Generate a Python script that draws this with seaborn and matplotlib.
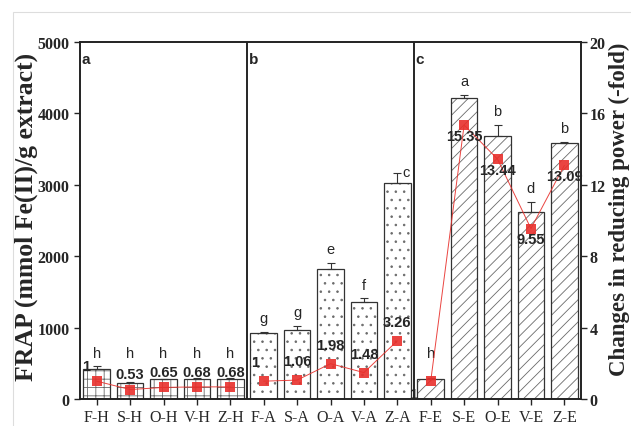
import numpy as np
import pandas as pd
import seaborn as sns
import matplotlib.pyplot as plt
from matplotlib.patches import Rectangle

# Datos
samples = ['F-H', 'S-H', 'O-H', 'V-H', 'Z-H',
           'F-A', 'S-A', 'O-A', 'V-A', 'Z-A',
           'F-E', 'S-E', 'O-E', 'V-E', 'Z-E']
panels = ['a'] * 5 + ['b'] * 5 + ['c'] * 5
frap = [425, 225, 275, 285, 285,
        925, 970, 1820, 1365, 3020,
        280, 4210, 3690, 2625, 3585]
frap_err = [35, 10, 10, 10, 10,
            20, 55, 85, 45, 140,
            15, 50, 150, 140, 20]
fold = [1, 0.53, 0.65, 0.68, 0.68,
        1, 1.06, 1.98, 1.48, 3.26,
        1, 15.35, 13.44, 9.55, 13.09]
fold_labels = ['1', '0.53', '0.65', '0.68', '0.68',
               '1', '1.06', '1.98', '1.48', '3.26',
               '1', '15.35', '13.44', '9.55', '13.09']
letters = ['h', 'h', 'h', 'h', 'h',
           'g', 'g', 'e', 'f', 'c',
           'h', 'a', 'b', 'd', 'b']

df = pd.DataFrame({'sample': samples, 'panel': panels, 'frap': frap,
                   'err': frap_err, 'fold': fold})
df['pos'] = np.arange(len(df))

sns.set_style('ticks')
serif = ['Liberation Serif', 'DejaVu Serif']
sans = ['Liberation Sans', 'DejaVu Sans']
narrow = ['Liberation Sans Narrow', 'Liberation Sans', 'DejaVu Sans']
red = '#e8302c'
plt.rcParams['hatch.linewidth'] = 0.6

fig = plt.figure(figsize=(6.31, 4.27), dpi=100)
ax = fig.add_axes([0.1268, 0.0632, 0.7940, 0.8361])

# relleno con tramas (color gris) y luego el contorno oscuro encima
sns.barplot(data=df, x='sample', y='frap', color='white', edgecolor='#6a6a6a',
            linewidth=0, width=0.8, errorbar=None, ax=ax)
hatches = {'a': '++', 'b': '..', 'c': '///'}
for patch, p in zip(ax.patches[:len(df)], df['panel']):
    patch.set_hatch(hatches[p])
sns.barplot(data=df, x='sample', y='frap', fill=False, color='#333333',
            linewidth=0.9, width=0.8, errorbar=None, ax=ax)

# barras de error (solo hacia arriba)
ax.errorbar(df['pos'], df['frap'], yerr=[np.zeros(len(df)), df['err']],
            fmt='none', ecolor='#333333', elinewidth=0.8, capsize=3, capthick=0.8)

ax.set_xlim(-0.5, 14.5)
ax.set_ylim(0, 5000)
ax.set_yticks(range(0, 5001, 1000))
ax.set_xlabel('')
ax.set_ylabel('')
for xs in (4.5, 9.5):
    ax.axvline(xs, color='black', lw=1.2)
for s in ax.spines.values():
    s.set_linewidth(1.2)
    s.set_color('#222222')
ax.tick_params(axis='both', direction='out', length=4, width=1)
for lab in ax.get_yticklabels():
    lab.set_fontfamily(serif)
    lab.set_fontweight('bold')
    lab.set_fontsize(11.5)
for lab in ax.get_xticklabels():
    lab.set_fontfamily(serif)
    lab.set_fontsize(11.5)

# letras de significancia
for i, row in df.iterrows():
    top = row['frap'] + row['err']
    if letters[i] == 'c' and row['panel'] == 'b':
        ax.text(row['pos'] + 0.25, top + 20, letters[i], ha='center', va='center',
                fontsize=10.5, family=sans)
        continue
    ax.text(row['pos'], max(top + 190, 640), letters[i], ha='center', va='center',
            fontsize=10.5, family=sans)

# paneles a, b, c
for xp, lab in zip((-0.45, 4.55, 9.55), ('a', 'b', 'c')):
    ax.text(xp, 4760, lab, ha='left', va='center', fontsize=11,
            fontweight='bold', family=sans)

# eje derecho: cambio en poder reductor
ax2 = ax.twinx()
sns.lineplot(data=df, x='pos', y='fold', units='panel', estimator=None,
             color=red, lw=0.7, alpha=0.9, marker='s', markersize=7,
             markeredgewidth=0, legend=False, ax=ax2)
ax2.set_xlim(-0.5, 14.5)
ax2.set_ylim(0, 20)
ax2.set_yticks(range(0, 21, 4))
ax2.set_ylabel('')
ax2.tick_params(axis='y', direction='out', length=4, width=1, pad=2)
for lab in ax2.get_yticklabels():
    lab.set_fontfamily(serif)
    lab.set_fontweight('bold')
    lab.set_fontsize(11.5)
for s in ax2.spines.values():
    s.set_linewidth(1.2)
    s.set_color('#222222')

# etiquetas de cambio (-fold)
for i, row in df.iterrows():
    x, f, p = row['pos'], row['fold'], row['panel']
    first = i % 5 == 0
    if p == 'a':
        tx, ty = (x - 0.32 if first else x), f + 0.85
    elif p == 'b':
        tx, ty = (x - 0.26 if first else x), f + 1.05
    else:
        tx, ty = (x - 0.52, 0.3) if first else (x, f - 0.6)
    ax2.text(tx, ty, fold_labels[i], ha='center', va='center', fontsize=10.5,
             fontweight='bold', family=narrow)

fig.text(0.041, 0.492, 'FRAP (mmol Fe(II)/g extract)', rotation=90,
         ha='center', va='center', fontsize=18.5, fontweight='bold', family=serif)
fig.text(0.981, 0.51, 'Changes in reducing power (-fold)', rotation=90,
         ha='center', va='center', fontsize=16.5, fontweight='bold', family=serif)

fig.patches.append(Rectangle((13 / 631, -0.05), 1.0, 1 - 13 / 427 + 0.05,
                             transform=fig.transFigure, fill=False,
                             edgecolor='#dddddd', lw=0.8))

fig.savefig('out.png', dpi=100)
